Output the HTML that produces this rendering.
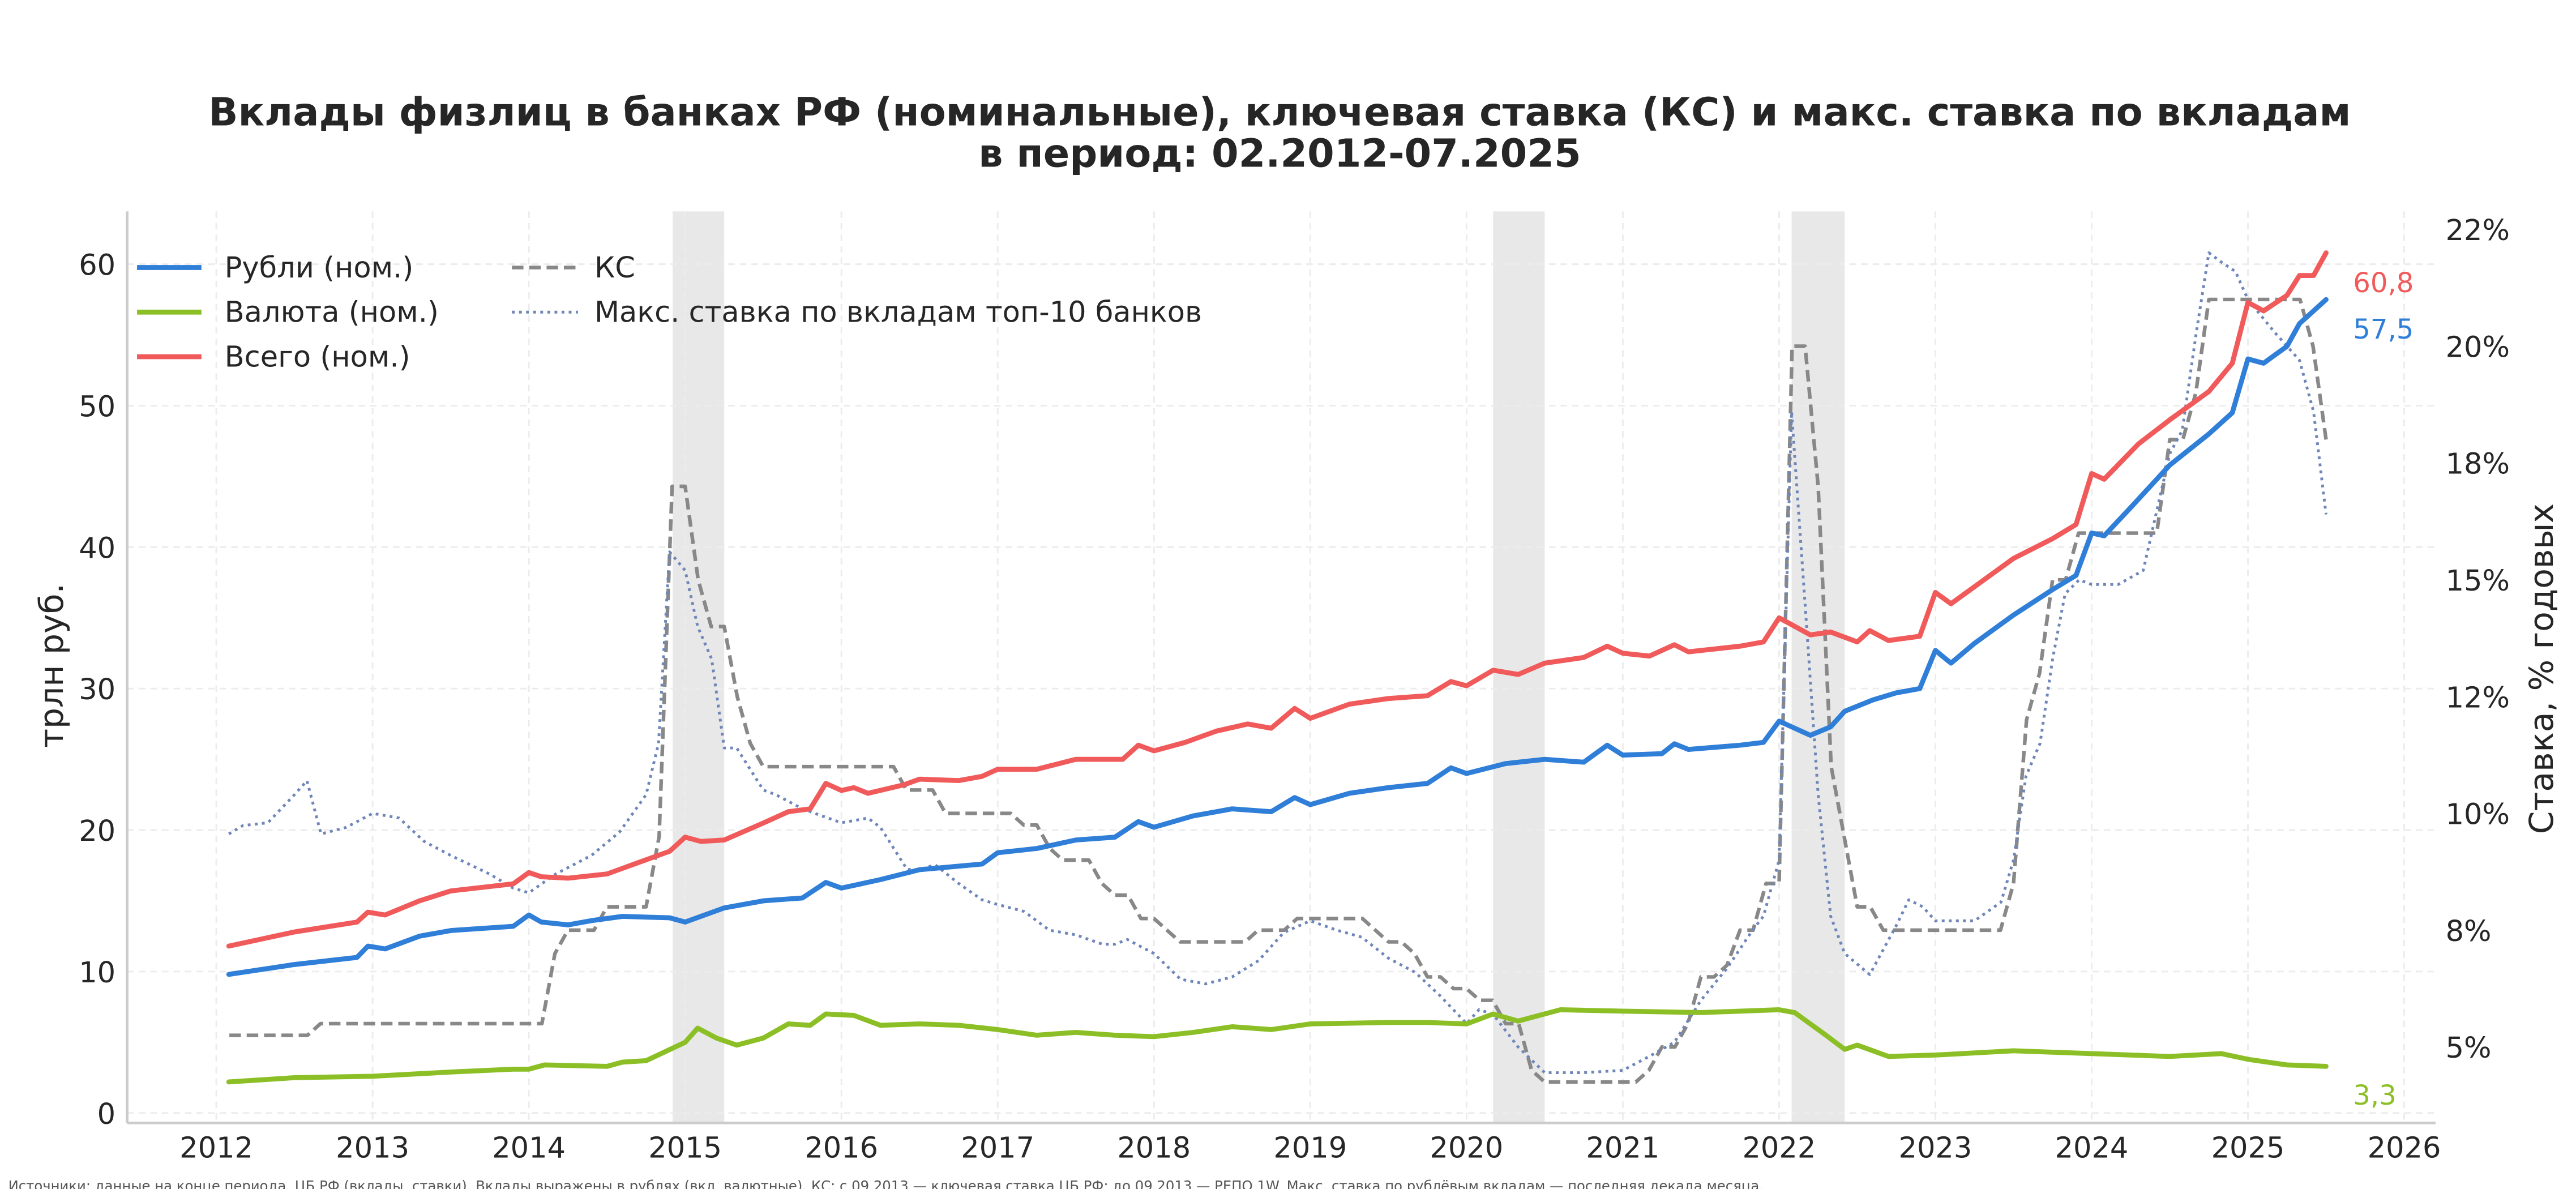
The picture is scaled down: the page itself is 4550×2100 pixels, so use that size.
<!DOCTYPE html>
<html><head><meta charset="utf-8">
<style>
html,body{margin:0;padding:0;background:#fff;}
svg{display:block;font-family:"DejaVu Sans","Liberation Sans",sans-serif;}
</style></head>
<body>
<svg id="chart" width="4550" height="2100" viewBox="0 0 1560 720" xmlns="http://www.w3.org/2000/svg">
<rect width="1560" height="720" fill="#fff"/>
<g id="bands"></g>
<g id="grid"></g>
<g id="series"></g>
<line x1="77" y1="128" x2="77" y2="680" stroke="#cccccc" stroke-width="1.6"/>
<line x1="77" y1="680" x2="1475" y2="680" stroke="#cccccc" stroke-width="1.6"/>
<g id="axes"></g>
<text x="775" y="76" text-anchor="middle" font-size="23.5" font-weight="bold" fill="#262626">Вклады физлиц в банках РФ (номинальные), ключевая ставка (КС) и макс. ставка по вкладам</text>
<text x="775" y="101" text-anchor="middle" font-size="23.5" font-weight="bold" fill="#262626">в период: 02.2012-07.2025</text>
<text transform="translate(38,403) rotate(-90)" text-anchor="middle" font-size="20" fill="#262626">трлн руб.</text>
<text transform="translate(1546,405) rotate(-90)" text-anchor="middle" font-size="20" fill="#262626">Ставка, % годовых</text>
<g>
  <line x1="83" y1="162" x2="122" y2="162" stroke="#2f7ed8" stroke-width="3"/>
  <text x="136" y="168" font-size="17.5" fill="#262626">Рубли (ном.)</text>
  <line x1="83" y1="189" x2="122" y2="189" stroke="#8cbf26" stroke-width="3"/>
  <text x="136" y="195" font-size="17.5" fill="#262626">Валюта (ном.)</text>
  <line x1="83" y1="216" x2="122" y2="216" stroke="#f05a5a" stroke-width="3"/>
  <text x="136" y="222" font-size="17.5" fill="#262626">Всего (ном.)</text>
  <line x1="310" y1="162" x2="350" y2="162" stroke="#888" stroke-width="2.2" stroke-dasharray="7,3.5"/>
  <text x="360" y="168" font-size="17.5" fill="#262626">КС</text>
  <line x1="310" y1="189" x2="350" y2="189" stroke="#6f86b8" stroke-width="1.7" stroke-dasharray="1.7,2.6"/>
  <text x="360" y="195" font-size="17.5" fill="#262626">Макс. ставка по вкладам топ-10 банков</text>
</g>
<text x="5" y="721" font-size="8.6" fill="#555" textLength="1063" lengthAdjust="spacingAndGlyphs">Источники: данные на конце периода, ЦБ РФ (вклады, ставки). Вклады выражены в рублях (вкл. валютные). КС: с 09.2013 — ключевая ставка ЦБ РФ; до 09.2013 — РЕПО 1W. Макс. ставка по рублёвым вкладам — последняя декада месяца.</text>
</svg>
<script>
const rubDates=[2012.08,2012.5,2012.9,2012.97,2013.08,2013.3,2013.5,2013.9,2014.0,2014.08,2014.25,2014.4,2014.6,2014.9,2015.0,2015.25,2015.5,2015.75,2015.9,2016.0,2016.25,2016.5,2016.9,2017.0,2017.25,2017.5,2017.75,2017.9,2018.0,2018.25,2018.5,2018.75,2018.9,2019.0,2019.25,2019.5,2019.75,2019.9,2020.0,2020.25,2020.5,2020.75,2020.9,2021.0,2021.25,2021.33,2021.42,2021.75,2021.9,2022.0,2022.2,2022.33,2022.42,2022.6,2022.75,2022.9,2023.0,2023.1,2023.25,2023.5,2023.75,2023.9,2024.0,2024.08,2024.25,2024.5,2024.75,2024.9,2025.0,2025.1,2025.25,2025.33,2025.5];
const rubValues=[9.8,10.5,11.0,11.8,11.6,12.5,12.9,13.2,14.0,13.5,13.3,13.6,13.9,13.8,13.5,14.5,15.0,15.2,16.3,15.9,16.5,17.2,17.6,18.4,18.7,19.3,19.5,20.6,20.2,21.0,21.5,21.3,22.3,21.8,22.6,23.0,23.3,24.4,24.0,24.7,25.0,24.8,26.0,25.3,25.4,26.1,25.7,26.0,26.2,27.7,26.7,27.3,28.4,29.2,29.7,30.0,32.7,31.8,33.2,35.2,37.0,38.0,41.0,40.8,42.8,45.8,48.0,49.5,53.3,53.0,54.2,55.8,57.5];
const totDates=[2012.08,2012.5,2012.9,2012.97,2013.08,2013.3,2013.5,2013.9,2014.0,2014.08,2014.25,2014.5,2014.6,2014.9,2015.0,2015.1,2015.25,2015.5,2015.66,2015.8,2015.9,2016.0,2016.08,2016.17,2016.4,2016.5,2016.75,2016.9,2017.0,2017.25,2017.5,2017.8,2017.9,2018.0,2018.2,2018.4,2018.6,2018.75,2018.9,2019.0,2019.25,2019.5,2019.75,2019.9,2020.0,2020.17,2020.33,2020.5,2020.75,2020.9,2021.0,2021.17,2021.33,2021.42,2021.75,2021.9,2022.0,2022.2,2022.33,2022.5,2022.58,2022.7,2022.9,2023.0,2023.1,2023.25,2023.5,2023.75,2023.9,2024.0,2024.08,2024.3,2024.5,2024.75,2024.9,2025.0,2025.1,2025.25,2025.33,2025.42,2025.5];
const totValues=[11.8,12.8,13.5,14.2,14.0,15.0,15.7,16.2,17.0,16.7,16.6,16.9,17.3,18.5,19.5,19.2,19.3,20.5,21.3,21.5,23.3,22.8,23.0,22.6,23.2,23.6,23.5,23.8,24.3,24.3,25.0,25.0,26.0,25.6,26.2,27.0,27.5,27.2,28.6,27.9,28.9,29.3,29.5,30.5,30.2,31.3,31.0,31.8,32.2,33.0,32.5,32.3,33.1,32.6,33.0,33.3,35.0,33.8,34.0,33.3,34.1,33.4,33.7,36.8,36.0,37.2,39.2,40.6,41.6,45.2,44.8,47.3,49.0,51.0,53.0,57.3,56.7,57.8,59.2,59.2,60.8];
const fxDates=[2012.08,2012.5,2013.0,2013.5,2013.9,2014.0,2014.1,2014.5,2014.6,2014.75,2015.0,2015.08,2015.2,2015.33,2015.5,2015.66,2015.8,2015.9,2016.08,2016.25,2016.5,2016.75,2017.0,2017.25,2017.5,2017.75,2018.0,2018.25,2018.5,2018.75,2019.0,2019.5,2019.75,2020.0,2020.17,2020.33,2020.6,2021.0,2021.5,2022.0,2022.1,2022.3,2022.42,2022.5,2022.7,2023.0,2023.5,2024.0,2024.5,2024.83,2025.0,2025.25,2025.5];
const fxValues=[2.2,2.5,2.6,2.9,3.1,3.1,3.4,3.3,3.6,3.7,5.0,6.0,5.3,4.8,5.3,6.3,6.2,7.0,6.9,6.2,6.3,6.2,5.9,5.5,5.7,5.5,5.4,5.7,6.1,5.9,6.3,6.4,6.4,6.3,7.0,6.5,7.3,7.2,7.1,7.3,7.1,5.5,4.5,4.8,4.0,4.1,4.4,4.2,4.0,4.2,3.8,3.4,3.3];
// Key rate, monthly month-end values from 02.2012 to 07.2025
const ksStart=2012+1/12;
const ksValues=[
5.25,5.25,5.25,5.25,5.25,5.25,5.25,5.5,5.5,5.5,5.5,
5.5,5.5,5.5,5.5,5.5,5.5,5.5,5.5,5.5,5.5,5.5,5.5,
5.5,5.5,7.0,7.5,7.5,7.5,8.0,8.0,8.0,8.0,9.5,17,
17,15,14,14,12.5,11.5,11,11,11,11,11,11,
11,11,11,11,11,10.5,10.5,10.5,10,10,10,10,
10,10,9.75,9.75,9.25,9.0,9.0,9.0,8.5,8.25,8.25,7.75,
7.75,7.5,7.25,7.25,7.25,7.25,7.25,7.25,7.5,7.5,7.5,7.75,
7.75,7.75,7.75,7.75,7.75,7.5,7.25,7.25,7.0,6.5,6.5,6.25,
6.25,6.0,6.0,5.5,5.5,4.5,4.25,4.25,4.25,4.25,4.25,4.25,
4.25,4.25,4.5,5.0,5.0,5.5,6.5,6.5,6.75,7.5,7.5,8.5,
8.5,20,20,17,11,9.5,8,8,7.5,7.5,7.5,7.5,
7.5,7.5,7.5,7.5,7.5,7.5,8.5,12,13,15,15,16,
16,16,16,16,16,16,18,18,19,21,21,21,
21,21,21,21,21,20,18];
const mrDates=[2012.08,2012.17,2012.33,2012.5,2012.58,2012.67,2012.83,2013.0,2013.17,2013.33,2013.5,2013.75,2013.9,2014.0,2014.17,2014.4,2014.58,2014.75,2014.83,2014.9,2015.0,2015.08,2015.17,2015.25,2015.33,2015.5,2015.58,2015.75,2015.83,2016.0,2016.17,2016.25,2016.42,2016.5,2016.6,2016.75,2016.9,2017.0,2017.17,2017.33,2017.5,2017.67,2017.75,2017.83,2018.0,2018.17,2018.33,2018.5,2018.67,2018.83,2019.0,2019.17,2019.33,2019.5,2019.67,2019.83,2020.0,2020.08,2020.17,2020.33,2020.5,2020.75,2021.0,2021.17,2021.33,2021.5,2021.67,2021.83,2021.9,2022.0,2022.08,2022.17,2022.25,2022.33,2022.42,2022.58,2022.75,2022.83,2022.92,2023.0,2023.25,2023.42,2023.5,2023.58,2023.67,2023.75,2023.83,2023.92,2024.0,2024.17,2024.33,2024.5,2024.58,2024.67,2024.75,2024.83,2024.92,2025.0,2025.17,2025.33,2025.42,2025.5];
const mrValues=[9.56,9.74,9.8,10.4,10.7,9.56,9.7,10.0,9.9,9.4,9.1,8.7,8.4,8.3,8.7,9.1,9.6,10.4,11.5,15.6,15.2,14.0,13.3,11.4,11.4,10.5,10.4,10.1,10.0,9.8,9.9,9.7,8.8,8.8,8.9,8.5,8.15,8.05,7.9,7.5,7.4,7.2,7.2,7.3,7.0,6.45,6.35,6.5,6.85,7.45,7.7,7.5,7.35,6.9,6.6,6.1,5.5,5.8,5.7,5.0,4.45,4.45,4.5,4.8,5.1,6.0,6.7,7.5,7.8,9.0,18.6,14.3,10.4,7.8,7.0,6.55,7.6,8.15,8.0,7.7,7.7,8.1,9.0,10.8,11.5,13.3,14.7,15.0,14.9,14.9,15.2,17.7,18.2,20.3,22.0,21.8,21.6,21.0,20.3,19.7,18.6,16.4];
const xTicks=[2012,2013,2014,2015,2016,2017,2018,2019,2020,2021,2022,2023,2024,2025,2026];
const yTicks=[0,10,20,30,40,50,60];
const rTicks=[5,7.5,10,12.5,15,17.5,20,22.5];
const rTickLabels=["5%","8%","10%","12%","15%","18%","20%","22%"];
const bandStarts=[2014.92,2020.17,2022.08];
const bandEnds=[2015.25,2020.5,2022.42];

const NS="http://www.w3.org/2000/svg";
const X=v=>131+(v-2012)*94.64;
const YL=v=>674-v*8.567;
const YR=v=>634-(v-5)*28.29;
function mk(tag,attrs,parent){const e=document.createElementNS(NS,tag);for(const k in attrs)e.setAttribute(k,attrs[k]);parent.appendChild(e);return e;}
const bands=document.getElementById('bands'),grid=document.getElementById('grid'),series=document.getElementById('series'),axes=document.getElementById('axes');
bandStarts.forEach((s,i)=>{const r=mk('rect',{x:X(s),y:128,width:X(bandEnds[i])-X(s),height:552,fill:'#e8e8e8'},bands);

});
xTicks.forEach(t=>{const l=mk('line',{x1:X(t),x2:X(t),y1:128,y2:680,stroke:'#ececec','stroke-width':1,'stroke-dasharray':'4,3'},grid);


const tx=mk('text',{x:X(t),y:701,'text-anchor':'middle','font-size':17.5,fill:'#262626'},axes);tx.textContent=t;

});
yTicks.forEach(t=>{const l=mk('line',{x1:77,x2:1475,y1:YL(t),y2:YL(t),stroke:'#ececec','stroke-width':1,'stroke-dasharray':'4,3'},grid);


const tx=mk('text',{x:70,y:YL(t)+6.5,'text-anchor':'end','font-size':17.5,fill:'#262626'},axes);tx.textContent=t;

});
rTicks.forEach((t,i)=>{const tx=mk('text',{x:1481,y:YR(t)+6.5,'font-size':17.5,fill:'#262626'},axes);tx.textContent=rTickLabels[i];

});
function path(xs,ys,fy,attrs,name){const d=xs.map((x,i)=>(i?'L':'M')+X(x).toFixed(2)+','+fy(ys[i]).toFixed(2)).join('');
const p=mk('path',Object.assign({d:d,fill:'none','stroke-linejoin':'round'},attrs),series);

}
const ksDates=ksValues.map((v,i)=>ksStart+i/12);
path(ksDates,ksValues,YR,{stroke:'#888','stroke-width':2.2,'stroke-dasharray':'7,3.5'},'key-rate-line');
path(mrDates,mrValues,YR,{stroke:'#6f86b8','stroke-width':1.7,'stroke-dasharray':'1.7,2.6'},'max-deposit-rate-line');
path(fxDates,fxValues,YL,{stroke:'#8cbf26','stroke-width':3,'stroke-linecap':'round'},'fx-deposits-line');
path(rubDates,rubValues,YL,{stroke:'#2f7ed8','stroke-width':3,'stroke-linecap':'round'},'rub-deposits-line');
path(totDates,totValues,YL,{stroke:'#f05a5a','stroke-width':3,'stroke-linecap':'round'},'total-deposits-line');
const endLabels=[[totValues[totValues.length-1],'#f05a5a',177,'end-label-total'],[rubValues[rubValues.length-1],'#2f7ed8',205,'end-label-rub'],[fxValues[fxValues.length-1],'#8cbf26',669,'end-label-fx']];
endLabels.forEach(e=>{const tx=mk('text',{x:1425,y:e[2],'font-size':16.5,fill:e[1]},axes);tx.textContent=e[0].toFixed(1).replace('.',',');

});
</script>
</body></html>
